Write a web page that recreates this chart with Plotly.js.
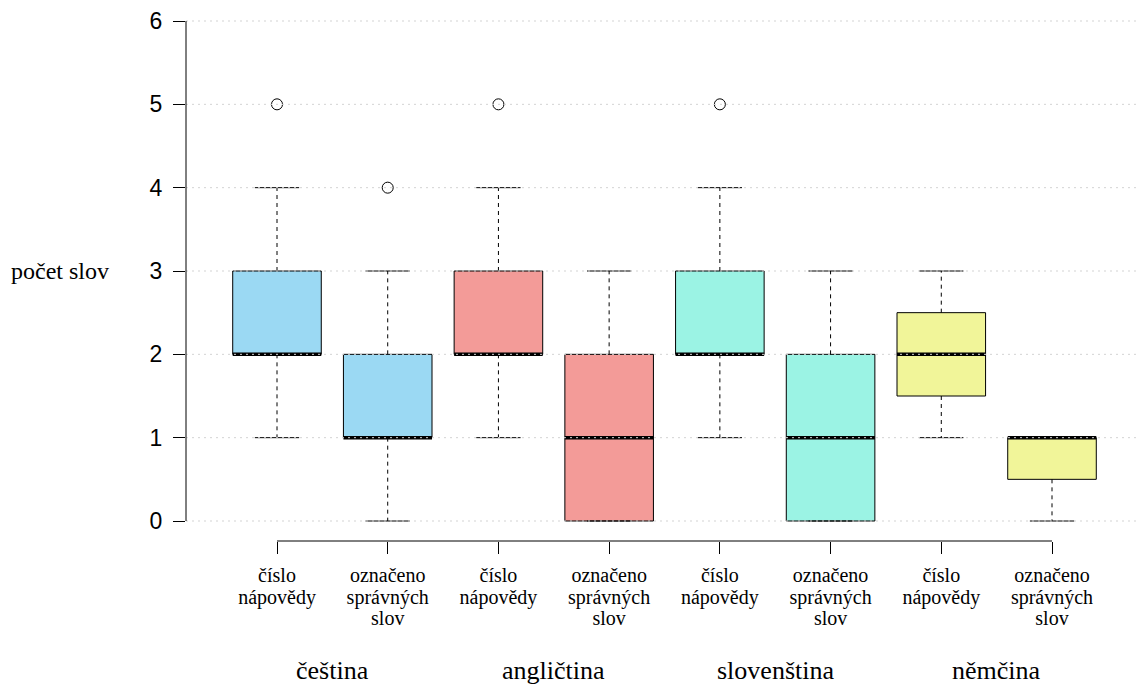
<!DOCTYPE html>
<html>
<head>
<meta charset="utf-8">
<script src="https://cdn.plot.ly/plotly-3.0.1.min.js"></script>
<style>html,body{margin:0;padding:0;background:#fff;}#chart{width:1140px;height:688px;}</style>
</head>
<body>
<div id="chart"></div>
<script>
// ---- data ----
const tickLabels = [
  ['číslo', 'nápovědy'], ['označeno', 'správných', 'slov'],
  ['číslo', 'nápovědy'], ['označeno', 'správných', 'slov'],
  ['číslo', 'nápovědy'], ['označeno', 'správných', 'slov'],
  ['číslo', 'nápovědy'], ['označeno', 'správných', 'slov']
];
const groupNames = ['čeština', 'angličtina', 'slovenština', 'němčina'];
const lowerWhisker = [1, 0, 1, 0, 1, 0, 1, 0];
const q1           = [2, 1, 2, 0, 2, 0, 1.5, 0.5];
const median       = [2, 1, 2, 1, 2, 1, 2, 1];
const q3           = [3, 2, 3, 2, 3, 2, 2.5, 1];
const upperWhisker = [4, 3, 4, 3, 4, 3, 3, 1];
const outliers     = [[5], [4], [5], [], [5], [], [], []];
const groupColors  = ['#9bd9f3', '#f39b98', '#9bf3e4', '#f1f599'];
const yTicks = [0, 1, 2, 3, 4, 5, 6];

// ---- styling ----
const boxHalf = 0.4, capHalf = 0.2;
const serif = 'Liberation Serif, Times New Roman, serif';
const sans = 'Liberation Sans, Arial, sans-serif';
const tickGlyphSize = 20;

const positions = tickLabels.map((_, i) => i + 1);
const tickText = tickLabels.map(lines =>
  lines.map(l => '<span style="font-size:' + tickGlyphSize + 'px">' + l + '</span>').join('<br>'));
const traces = [];

// boxes
positions.forEach((p, i) => {
  traces.push({
    type: 'scatter', mode: 'lines',
    x: [p - boxHalf, p + boxHalf, p + boxHalf, p - boxHalf, p - boxHalf],
    y: [q1[i], q1[i], q3[i], q3[i], q1[i]],
    fill: 'toself', fillcolor: groupColors[Math.floor(i / 2)],
    line: {color: '#000', width: 1}, hoverinfo: 'skip', showlegend: false
  });
});

// whiskers (dashed)
const wx = [], wy = [];
positions.forEach((p, i) => {
  wx.push(p, p, null, p, p, null);
  wy.push(q3[i], upperWhisker[i], null, q1[i], lowerWhisker[i], null);
});
traces.push({type: 'scatter', mode: 'lines', x: wx, y: wy,
  line: {color: '#000', width: 1, dash: '4px,4px'}, hoverinfo: 'skip', showlegend: false});

// caps
const cx = [], cy = [];
positions.forEach((p, i) => {
  cx.push(p - capHalf, p + capHalf, null, p - capHalf, p + capHalf, null);
  cy.push(upperWhisker[i], upperWhisker[i], null, lowerWhisker[i], lowerWhisker[i], null);
});
traces.push({type: 'scatter', mode: 'lines', x: cx, y: cy,
  line: {color: '#000', width: 1}, hoverinfo: 'skip', showlegend: false});

// medians
const mx = [], my = [];
positions.forEach((p, i) => {
  mx.push(p - boxHalf, p + boxHalf, null);
  my.push(median[i], median[i], null);
});
traces.push({type: 'scatter', mode: 'lines', x: mx, y: my,
  line: {color: '#000', width: 3.5}, hoverinfo: 'skip', showlegend: false});

// outliers
const ox = [], oy = [];
positions.forEach((p, i) => outliers[i].forEach(v => { ox.push(p); oy.push(v); }));
traces.push({type: 'scatter', mode: 'markers', x: ox, y: oy,
  marker: {symbol: 'circle-open', size: 11, color: '#000', line: {width: 1}},
  hoverinfo: 'skip', showlegend: false});

// shapes: dotted grid above traces, R-style axis lines
const shapes = yTicks.map(v => ({
  type: 'line', xref: 'paper', yref: 'y', x0: 0, x1: 1, y0: v, y1: v,
  layer: 'above', line: {color: '#d3d3d3', width: 1, dash: '2px,4px'}
}));
shapes.push({type: 'line', xref: 'paper', yref: 'y', x0: 0, x1: 0,
  y0: yTicks[0], y1: yTicks[yTicks.length - 1], line: {color: '#000', width: 1}});
shapes.push({type: 'line', xref: 'x', yref: 'paper', x0: positions[0], x1: positions[positions.length - 1],
  y0: 0, y1: 0, line: {color: '#000', width: 1}});

// annotations: group names and y title
const annotations = groupNames.map((g, k) => ({
  text: g, xref: 'x', yref: 'paper', x: (positions[2 * k] + positions[2 * k + 1]) / 2, y: -0.243,
  xanchor: 'center', yanchor: 'middle', showarrow: false,
  font: {family: serif, size: 26, color: '#000'}
}));
annotations.push({
  text: 'počet slov', xref: 'paper', yref: 'y', x: -0.132, y: 3,
  xanchor: 'center', yanchor: 'middle', showarrow: false,
  font: {family: serif, size: 24, color: '#000'}
});

const layout = {
  width: 1140, height: 688,
  margin: {l: 186, r: 0, t: 10, b: 147},
  paper_bgcolor: '#fff', plot_bgcolor: '#fff',
  showlegend: false,
  xaxis: {
    range: [0.1781, 8.7948], tickmode: 'array', tickvals: positions, ticktext: tickText,
    ticks: 'outside', ticklen: 12, tickcolor: '#000', tickwidth: 1,
    showgrid: false, zeroline: false, showline: false, ticklabelstandoff: 8,
    tickfont: {family: serif, size: 16.7, color: '#000'}
  },
  yaxis: {
    range: [-0.24, 6.132], tickmode: 'array', tickvals: yTicks,
    ticks: 'outside', ticklen: 12, tickcolor: '#000', tickwidth: 1,
    showgrid: false, zeroline: false, showline: false, ticklabelstandoff: 6,
    tickfont: {family: sans, size: 23, color: '#000'}
  },
  shapes: shapes,
  annotations: annotations
};

Plotly.newPlot('chart', traces, layout, {staticPlot: true, displayModeBar: false});
</script>
</body>
</html>
